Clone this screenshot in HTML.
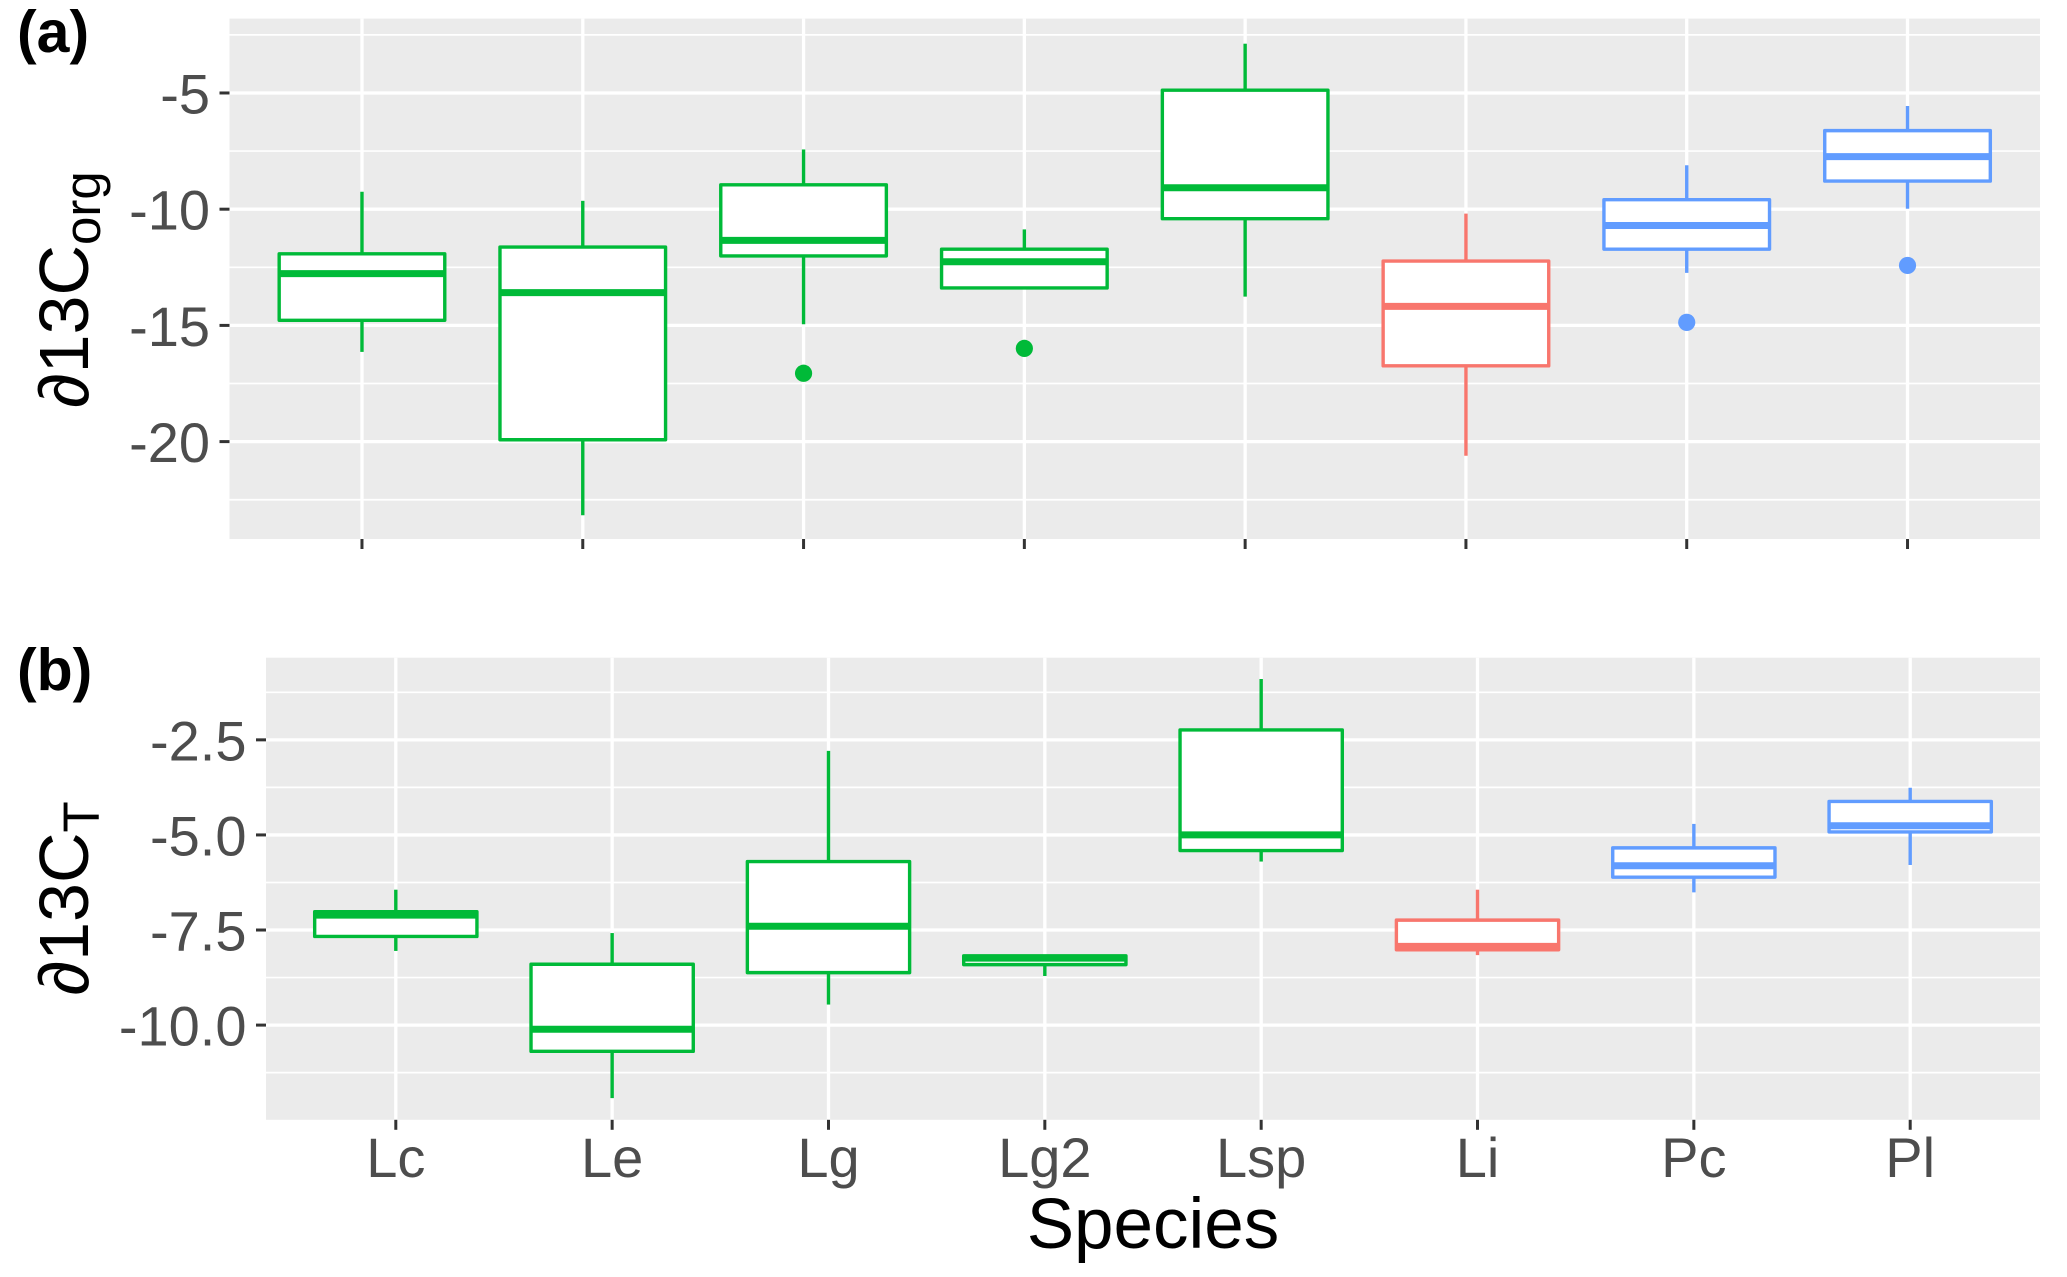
<!DOCTYPE html>
<html lang="en">
<head>
<meta charset="utf-8">
<title>Boxplots of d13C by species</title>
<style>
html,body{margin:0;padding:0;background:#fff;}
svg{display:block;font-family:"Liberation Sans",Arial,sans-serif;}
</style>
</head>
<body>
<svg id="chart" xmlns="http://www.w3.org/2000/svg" width="2067" height="1277" viewBox="0 0 2067 1277">
  <rect x="0" y="0" width="2067" height="1277" fill="#ffffff"/>
  <text x="17" y="52" font-size="59" font-weight="700" fill="#000">(a)</text>
  <text x="17" y="690" font-size="59" font-weight="700" fill="#000">(b)</text>
  <text transform="translate(88 408) rotate(-90)" font-size="70" fill="#000">∂13C<tspan dy="12" font-size="51">org</tspan></text>
  <text transform="translate(88 995.5) rotate(-90)" font-size="70" fill="#000">∂13C<tspan dy="11" font-size="51">T</tspan></text>
  <text x="1153" y="1248" text-anchor="middle" font-size="71" fill="#000">Species</text>
  <g id="panel-a"></g>
  <g id="panel-b"></g>
</svg>
<script>
// Shared categories
const categories = ['Lc','Le','Lg','Lg2','Lsp','Li','Pc','Pl'];
const genusGroup = ['gA','gA','gA','gA','gA','gB','gC','gC'];

// Panel (a) values
const aTicks = [-5,-10,-15,-20];
const aTickLabels = ['-5','-10','-15','-20'];
const aMinorTicks = [-2.5,-7.5,-12.5,-17.5,-22.5];
const aHigh   = [-9.25,-9.64,-7.43,-10.87,-2.88,-10.19,-8.11,-5.56];
const aQ3     = [-11.92,-11.63,-8.95,-11.72,-4.88,-12.23,-9.59,-6.62];
const aMedian = [-12.77,-13.59,-11.34,-12.26,-9.08,-14.18,-10.70,-7.74];
const aQ1     = [-14.78,-19.92,-12.01,-13.39,-10.41,-16.74,-11.72,-8.79];
const aLow    = [-16.14,-23.17,-14.95,-13.39,-13.76,-20.61,-12.74,-9.98];
const aOutliers = [null,null,-17.06,-15.99,null,null,-14.87,-12.42];

// Panel (b) values
const bTicks = [-2.5,-5,-7.5,-10];
const bTickLabels = ['-2.5','-5.0','-7.5','-10.0'];
const bMinorTicks = [-1.25,-3.75,-6.25,-8.75,-11.25];
const bHigh   = [-6.44,-7.58,-2.79,-8.18,-0.90,-6.44,-4.71,-3.76];
const bQ3     = [-7.02,-8.40,-5.70,-8.18,-2.24,-7.24,-5.34,-4.12];
const bMedian = [-7.11,-10.11,-7.40,-8.24,-5.00,-7.93,-5.81,-4.76];
const bQ1     = [-7.67,-10.69,-8.62,-8.41,-5.41,-8.02,-6.11,-4.92];
const bLow    = [-8.05,-11.92,-9.46,-8.71,-5.70,-8.16,-6.51,-5.79];
const bOutliers = [null,null,null,null,null,null,null,null];

const NS = 'http://www.w3.org/2000/svg';
const groupColor = {gA:'#00BA38', gB:'#F8766D', gC:'#619CFF'};

function svgEl(tag, props){
  const e = document.createElementNS(NS, tag);
  for (const k in props) e.setAttribute(k, props[k]);
  return e;
}

function drawPanel(host, key, frame, domain, series, ticks, tickLabels, minorTicks, showXLabels){
  const yScale = v => frame.top + (domain.max - v) / (domain.max - domain.min) * (frame.bottom - frame.top);
  const step = (frame.right - frame.left) / (categories.length - 1 + 1.2);
  const xScale = i => frame.left + (0.6 + i) * step;
  const boxHalf = step * 0.375;

  const bg = svgEl('rect', {x:frame.left, y:frame.top, width:frame.right-frame.left, height:frame.bottom-frame.top, fill:'#EBEBEB'});
  
  
  host.appendChild(bg);

  minorTicks.forEach(v => {
    const g = svgEl('line', {x1:frame.left, x2:frame.right, y1:yScale(v), y2:yScale(v), stroke:'#fff', 'stroke-width':1.7});
    
    
    host.appendChild(g);
  });

  ticks.forEach((v, i) => {
    const y = yScale(v);
    const g = svgEl('line', {x1:frame.left, x2:frame.right, y1:y, y2:y, stroke:'#fff', 'stroke-width':3.3});
    
    
    host.appendChild(g);

    const t = svgEl('line', {x1:frame.left-10, x2:frame.left, y1:y, y2:y, stroke:'#333', 'stroke-width':3});
    
    
    host.appendChild(t);

    const lab = svgEl('text', {x:frame.left-19.5, y:y+20.5, 'text-anchor':'end', 'font-size':56, fill:'#4D4D4D'});
    lab.textContent = tickLabels[i];
    
    
    host.appendChild(lab);
  });

  categories.forEach((cat, i) => {
    const x = xScale(i);
    const g = svgEl('line', {x1:x, x2:x, y1:frame.top, y2:frame.bottom, stroke:'#fff', 'stroke-width':3.3});
    
    
    host.appendChild(g);

    const t = svgEl('line', {x1:x, x2:x, y1:frame.bottom, y2:frame.bottom+10, stroke:'#333', 'stroke-width':3});
    
    
    host.appendChild(t);

    if (showXLabels) {
      const lab = svgEl('text', {x:x, y:frame.bottom+57, 'text-anchor':'middle', 'font-size':56, fill:'#4D4D4D'});
      lab.textContent = cat;
      
      
      host.appendChild(lab);
    }
  });

  categories.forEach((cat, i) => {
    const x = xScale(i);
    const color = groupColor[genusGroup[i]];
    const box = svgEl('g', {});
    
    
    host.appendChild(box);

    const up = svgEl('line', {x1:x, x2:x, y1:yScale(series.high[i]), y2:yScale(series.q3[i]), stroke:color, 'stroke-width':3.4});
    
    
    box.appendChild(up);

    const down = svgEl('line', {x1:x, x2:x, y1:yScale(series.q1[i]), y2:yScale(series.low[i]), stroke:color, 'stroke-width':3.4});
    
    
    box.appendChild(down);

    const r = svgEl('rect', {x:x-boxHalf, y:yScale(series.q3[i]), width:boxHalf*2, height:yScale(series.q1[i])-yScale(series.q3[i]), fill:'#fff', stroke:color, 'stroke-width':3.4, 'stroke-linejoin':'round'});
    
    
    box.appendChild(r);

    const med = svgEl('line', {x1:x-boxHalf, x2:x+boxHalf, y1:yScale(series.median[i]), y2:yScale(series.median[i]), stroke:color, 'stroke-width':7});
    
    
    box.appendChild(med);

    if (series.outliers[i] !== null) {
      const p = svgEl('circle', {cx:x, cy:yScale(series.outliers[i]), r:8.6, fill:color});
      
      
      box.appendChild(p);
    }
  });
}

drawPanel(document.getElementById('panel-a'), 'panel-a',
  {left:229.5, right:2040, top:18.6, bottom:539},
  {max:-1.80, min:-24.19},
  {high:aHigh, q3:aQ3, median:aMedian, q1:aQ1, low:aLow, outliers:aOutliers},
  aTicks, aTickLabels, aMinorTicks, false);

drawPanel(document.getElementById('panel-b'), 'panel-b',
  {left:266, right:2040, top:657.7, bottom:1119.8},
  {max:-0.34, min:-12.49},
  {high:bHigh, q3:bQ3, median:bMedian, q1:bQ1, low:bLow, outliers:bOutliers},
  bTicks, bTickLabels, bMinorTicks, true);
</script>
</body>
</html>
